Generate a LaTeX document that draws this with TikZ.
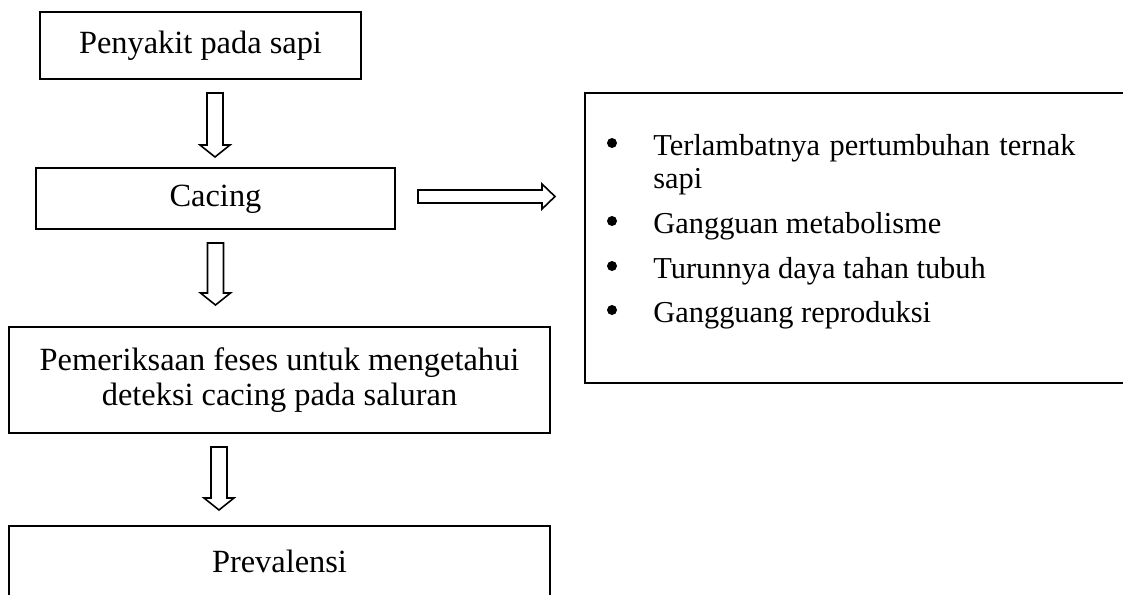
\documentclass[tikz,border=0pt]{standalone}
\usepackage{fontspec}
\setmainfont{Liberation Serif}
\begin{document}
\begin{tikzpicture}[x=0.5pt,y=-0.5pt,
  every node/.style={font=\fontsize{16.2pt}{17.5pt}\selectfont, inner sep=0pt},
  flowbox/.style={draw, line width=1.1pt},
  onelinebox/.style={flowbox, text height=0.75em, text depth=0pt},
  listtext/.style={anchor=base west, font=\fontsize{15.2pt}{17.5pt}\selectfont},
  bulletdot/.style={circle, fill, minimum size=5pt},
  blockarrow/.style={draw, line width=0.8pt, fill=white, line join=miter}]
\useasboundingbox (0,0) rectangle (1123,594);
\clip (0,0) rectangle (1123,594);

\newcommand\blkdown[3]{% x, ytop, ytip
  \draw[blockarrow] (#1-8,#2) -- (#1+8,#2) -- (#1+8,#3-12) -- (#1+15,#3-12) -- (#1,#3)
    -- (#1-15,#3-12) -- (#1-8,#3-12) -- cycle;}

% boxes
\node[onelinebox, minimum width=160.5pt, minimum height=33.5pt] (b1) at (200.5,45.5) {Penyakit pada sapi};
\node[onelinebox, minimum width=179.5pt, minimum height=30.5pt] (b2) at (215.5,198.5) {Cacing};
\node[flowbox, minimum width=270.5pt, minimum height=53pt, align=center] (b3) at (279.5,380)
  {Pemeriksaan feses untuk mengetahui\\deteksi cacing pada saluran};
\node[onelinebox, minimum width=270.5pt, minimum height=38.5pt] (b4) at (279.5,564.5) {Prevalensi};

% right box
\node[draw, line width=1.1pt, minimum width=275pt, minimum height=145pt] (rbox) at (860,238) {};
\node[bulletdot] (d1) at (612,143) {};
\node[listtext] (t1) at (653,155) {\makebox[211pt][s]{Terlambatnya pertumbuhan ternak}};
\node[listtext] (t1b) at (653,188) {sapi};
\node[bulletdot] (d2) at (612,221) {};
\node[listtext] (t2) at (653,233) {Gangguan metabolisme};
\node[bulletdot] (d3) at (612,266) {};
\node[listtext] (t3) at (653,278) {Turunnya daya tahan tubuh};
\node[bulletdot] (d4) at (612,310) {};
\node[listtext] (t4) at (653,322) {Gangguang reproduksi};

% block arrows
\blkdown{215}{93}{157}
\blkdown{215.5}{243}{305}
\blkdown{219}{447}{510}
\draw[blockarrow] (418,190) -- (542,190) -- (542,184) -- (555,196.5) -- (542,209)
  -- (542,203) -- (418,203) -- cycle;
\end{tikzpicture}
\end{document}
